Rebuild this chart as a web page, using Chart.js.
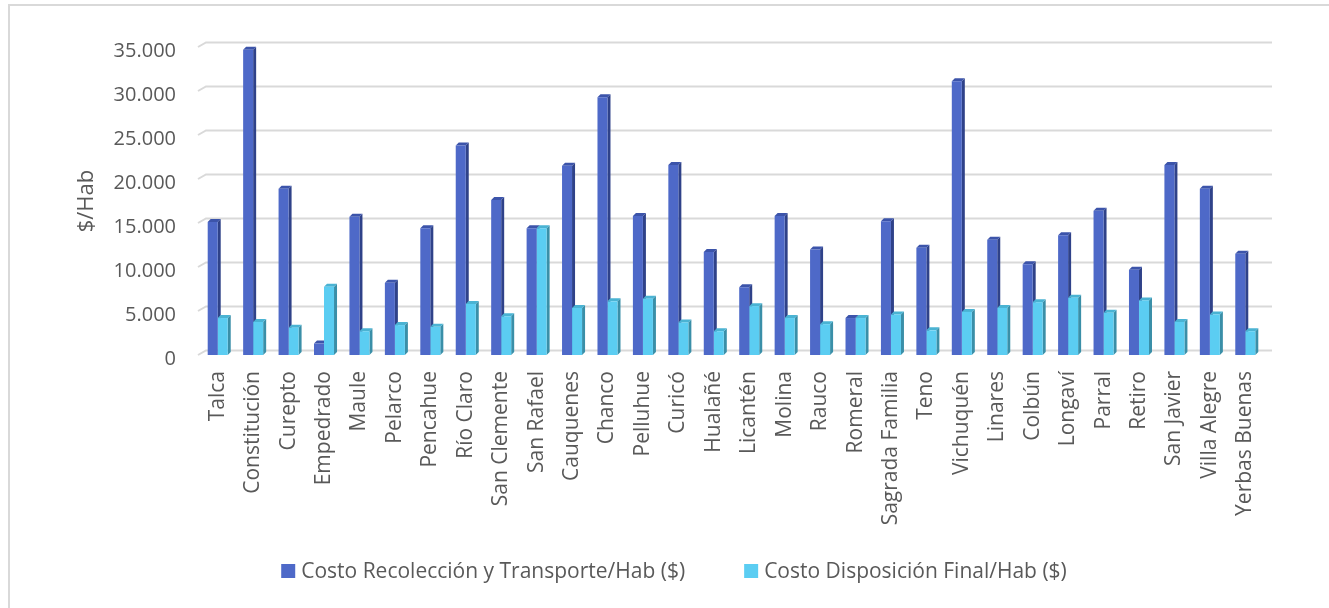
<!DOCTYPE html>
<html lang="es">
<head>
  <meta charset="UTF-8" />
  <title>Costo por habitante</title>
  <script src="https://cdn.jsdelivr.net/npm/chart.js"></script>
  <style>
    * { margin: 0; padding: 0; box-sizing: border-box; }
    body { background: #fff; overflow: hidden; }
    #wrap { position: relative; width: 1329px; height: 608px; }
  </style>
</head>
<body>
  <div id="wrap"><canvas id="chart" width="1329" height="608"></canvas></div>

  <script>
    // data
    const comunas = ['Talca', 'Constitución', 'Curepto', 'Empedrado', 'Maule', 'Pelarco', 'Pencahue',
      'Río Claro', 'San Clemente', 'San Rafael', 'Cauquenes', 'Chanco', 'Pelluhue', 'Curicó',
      'Hualañé', 'Licantén', 'Molina', 'Rauco', 'Romeral', 'Sagrada Familia', 'Teno', 'Vichuquén',
      'Linares', 'Colbún', 'Longaví', 'Parral', 'Retiro', 'San Javier', 'Villa Alegre', 'Yerbas Buenas'];

    const recoleccion = [15100, 34700, 18900, 1300, 15700, 8200, 14400, 23800, 17600, 14400,
      21500, 29300, 15800, 21600, 11700, 7700, 15800, 12000, 4200, 15200,
      12200, 31100, 13100, 10300, 13600, 16400, 9700, 21600, 18900, 11500];

    const disposicion = [4200, 3750, 3100, 7750, 2700, 3400, 3200, 5800, 4400, 14400,
      5350, 6100, 6400, 3700, 2700, 5550, 4200, 3500, 4200, 4600,
      2800, 4900, 5350, 6000, 6500, 4800, 6200, 3750, 4600, 2700];

    const yTicks = [0, 5000, 10000, 15000, 20000, 25000, 30000, 35000];

    const FONT = "'Open Sans'";
    const TXT = '#595959';

    // faces for the 3D look: [front, side, top]
    const shades = [
      ['#4E69C8', '#2F4289', '#3C54AA'],
      ['#5BCDF2', '#3A8FA8', '#4AB3D3']
    ];
    const DX = 3, DY = 3;

    const frame3d = {
      id: 'frame3d',
      beforeDatasetsDraw(chart) {
        const ctx = chart.ctx;
        const y = chart.scales.y;
        const left = chart.chartArea.left - 2;
        const right = chart.chartArea.right + 9;
        ctx.save();
        // outer frame (only left and top visible)
        ctx.strokeStyle = '#d9d9d9';
        ctx.lineWidth = 2;
        ctx.beginPath();
        ctx.moveTo(9, 610);
        ctx.lineTo(9, 5);
        ctx.lineTo(1330, 5);
        ctx.stroke();

        // back wall gridlines with little side-wall slant
        yTicks.forEach(v => {
          const py = y.getPixelForValue(v);
          ctx.beginPath();
          ctx.moveTo(left, py);
          ctx.lineTo(left + 8, py - 4.5);
          ctx.lineTo(right, py - 4.5);
          ctx.stroke();
        });

        // side and top faces of the bars
        chart.data.datasets.forEach((ds, i) => {
          const meta = chart.getDatasetMeta(i);
          meta.data.forEach(bar => {
            const l = bar.x - bar.width / 2, r = bar.x + bar.width / 2;
            const t = bar.y, b = bar.base;
            ctx.fillStyle = shades[i][1];
            ctx.beginPath();
            ctx.moveTo(r, t);
            ctx.lineTo(r + DX, t - DY);
            ctx.lineTo(r + DX, b - DY);
            ctx.lineTo(r, b);
            ctx.closePath();
            ctx.fill();
            ctx.fillStyle = shades[i][2];
            ctx.beginPath();
            ctx.moveTo(l, t);
            ctx.lineTo(l + DX, t - DY);
            ctx.lineTo(r + DX, t - DY);
            ctx.lineTo(r, t);
            ctx.closePath();
            ctx.fill();
          });
        });
        ctx.restore();
      }
    };

    // legend drawn by hand so the spacing matches
    const bottomLegend = {
      id: 'bottomLegend',
      afterDraw(chart) {
        const ctx = chart.ctx;
        const cy = 571, box = 14, gap = 6, between = 59;
        ctx.save();
        ctx.font = '21px ' + FONT;
        ctx.textBaseline = 'middle';
        const items = chart.data.datasets.map(ds => ({
          text: ds.label, color: ds.backgroundColor,
          w: box + gap + ctx.measureText(ds.label).width
        }));
        const total = items.reduce((s, it) => s + it.w, 0) + between * (items.length - 1);
        let x = 674 - total / 2;
        items.forEach(it => {
          ctx.fillStyle = it.color;
          ctx.fillRect(x, cy - box / 2, box, box);
          ctx.fillStyle = TXT;
          ctx.fillText(it.text, x + box + gap, cy + 1);
          x += it.w + between;
        });
        ctx.restore();
      }
    };

    new Chart(document.getElementById('chart'), {
      type: 'bar',
      data: {
        labels: comunas,
        datasets: [
          {
            label: 'Costo Recolección y Transporte/Hab ($)',
            data: recoleccion,
            backgroundColor: shades[0][0],
            borderWidth: 0,
            categoryPercentage: 0.565,
            barPercentage: 1.0
          },
          {
            label: 'Costo Disposición Final/Hab ($)',
            data: disposicion,
            backgroundColor: shades[1][0],
            borderWidth: 0,
            categoryPercentage: 0.565,
            barPercentage: 1.0
          }
        ]
      },
      options: {
        responsive: false,
        animation: false,
        events: [],
        layout: { padding: { top: 47, right: 66, bottom: 73, left: 74 } },
        scales: {
          x: {
            grid: { display: false, drawTicks: false },
            border: { display: false },
            ticks: {
              minRotation: 90, maxRotation: 90, autoSkip: false,
              padding: 16,
              color: TXT,
              font: { family: FONT, size: 21 }
            },
            afterFit: s => { s.height = 180; }
          },
          y: {
            min: 0, max: 35000,
            afterBuildTicks: s => { s.ticks = yTicks.map(v => ({ value: v })); },
            grid: { display: false, drawTicks: false },
            border: { display: false },
            ticks: {
              padding: 24,
              labelOffset: 4,
              color: TXT,
              font: { family: FONT, size: 20 },
              callback: v => v.toLocaleString('de-DE')
            },
            title: {
              display: true,
              text: '$/Hab',
              color: TXT,
              font: { family: FONT, size: 22 },
              padding: 0
            },
            afterFit: s => { s.width = 126; }
          }
        },
        plugins: {
          legend: { display: false },
          tooltip: { enabled: false }
        }
      },
      plugins: [frame3d, bottomLegend]
    });
  </script>
</body>
</html>
